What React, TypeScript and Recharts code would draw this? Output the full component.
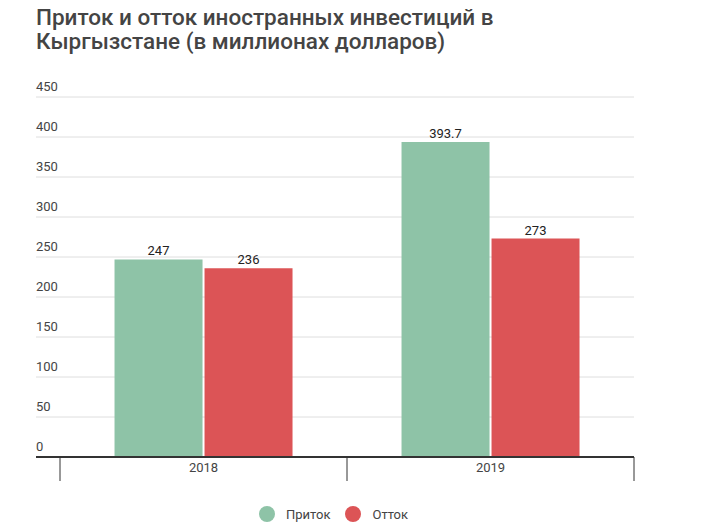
import { Bar, BarChart, CartesianGrid, LabelList, Legend, XAxis, YAxis } from "recharts";

const years = ["2018", "2019"];
const inflow = [247, 393.7];
const outflow = [236, 273];
const yTicks = [0, 50, 100, 150, 200, 250, 300, 350, 400, 450];

const rows = years.map((year, i) => ({ year, inflow: inflow[i], outflow: outflow[i] }));

const GREEN = "#8ec3a7";
const RED = "#dc5456";
const FONT = "Roboto, 'Noto Sans', sans-serif";
const PAD_LEFT = 24;

function YTick(props: any) {
  const { x, y, payload } = props;
  return (
    <text x={x} y={y - 9} fill="#444" fontSize={13} fontFamily={FONT} textAnchor="start" dominantBaseline="middle">
      {payload.value}
    </text>
  );
}

// Category label plus the boundary tick marks between the year groups.
function XTick(props: any) {
  const { x, y, payload, index, visibleTicksCount, width } = props;
  const count = visibleTicksCount || years.length;
  const band = width ? (width - PAD_LEFT) / count : 287;
  const axisY = y - 6;
  const isLast = index === count - 1;
  return (
    <g>
      <line x1={x - band / 2} x2={x - band / 2} y1={axisY} y2={axisY + 24} stroke="#333" />
      {isLast && <line x1={x + band / 2} x2={x + band / 2} y1={axisY} y2={axisY + 24} stroke="#333" />}
      <text x={x} y={y} dy="0.71em" fill="#444" fontSize={13} fontFamily={FONT} textAnchor="middle">
        {payload.value}
      </text>
    </g>
  );
}

function LegendContent(props: any) {
  const items = props.payload || [];
  return (
    <div style={{ display: "flex", justifyContent: "center", alignItems: "center", fontFamily: FONT, fontSize: 13 }}>
      {items.map((item: any, i: number) => (
        <div key={item.value} style={{ display: "flex", alignItems: "center", marginLeft: i === 0 ? 0 : 15 }}>
          <span style={{ width: 16, height: 16, borderRadius: 8, background: item.color, display: "inline-block" }} />
          <span style={{ color: "#444", marginLeft: 11 }}>{item.value}</span>
        </div>
      ))}
    </div>
  );
}

export default function App() {
  return (
    <div style={{ position: "absolute", left: 0, top: 0, width: 703, height: 531, background: "#fff", fontFamily: FONT }}>
      <div
        style={{
          position: "absolute",
          left: 36,
          top: 5,
          fontSize: 22.5,
          fontWeight: 500,
          lineHeight: "24px",
          color: "#444",
        }}
      >
        Приток и отток иностранных инвестиций в
        <br />
        Кыргызстане (в миллионах долларов)
      </div>
      <BarChart
        width={703}
        height={531}
        data={rows}
        margin={{ top: 97, right: 69, bottom: 28, left: 0 }}
        barCategoryGap="19%"
        barGap={2}
      >
        <CartesianGrid vertical={false} stroke="#dedede" />
        <XAxis
          dataKey="year"
          axisLine={{ stroke: "#333", strokeWidth: 2 }}
          tickLine={false}
          tickSize={4}
          height={30}
          padding={{ left: PAD_LEFT, right: 0 }}
          tick={<XTick />}
        />
        <YAxis
          domain={[0, 450]}
          ticks={yTicks}
          width={36}
          axisLine={false}
          tickLine={false}
          tickSize={0}
          tickMargin={0}
          tick={<YTick />}
        />
        <Legend
          verticalAlign="bottom"
          itemSorter="dataKey"
          content={<LegendContent />}
          wrapperStyle={{ left: 0, width: 667, bottom: 9 }}
        />
        <Bar dataKey="inflow" name="Приток" fill={GREEN} isAnimationActive={false}>
          <LabelList dataKey="inflow" position="top" fill="#222" fontSize={13} fontFamily={FONT} offset={4} />
        </Bar>
        <Bar dataKey="outflow" name="Отток" fill={RED} isAnimationActive={false}>
          <LabelList dataKey="outflow" position="top" fill="#222" fontSize={13} fontFamily={FONT} offset={4} />
        </Bar>
      </BarChart>
    </div>
  );
}
